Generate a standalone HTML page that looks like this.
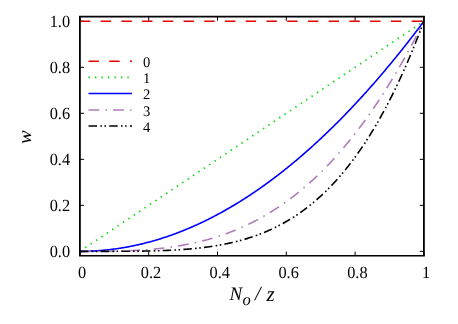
<!DOCTYPE html>
<html><head><meta charset="utf-8"><title>plot</title>
<style>html,body{margin:0;padding:0;background:#fff;}body{width:458px;height:324px;overflow:hidden;font-family:"Liberation Serif",serif;}svg{display:block;will-change:transform;}</style>
</head><body>
<svg width="458" height="324" viewBox="0 0 458 324" font-family="'Liberation Serif', serif" fill="#000" text-rendering="geometricPrecision">
<rect x="0" y="0" width="458" height="324" fill="#fff"/>
<path d="M79.90,255.75 v-4.15 M79.90,16.62 v4.15 M79.9,251.35 h4.15 M423.9,251.35 h-4.15" stroke="#000" stroke-width="1" fill="none"/>
<path d="M148.70,255.75 v-4.15 M148.70,16.62 v4.15 M79.9,205.34 h4.15 M423.9,205.34 h-4.15" stroke="#000" stroke-width="1" fill="none"/>
<path d="M217.50,255.75 v-4.15 M217.50,16.62 v4.15 M79.9,159.33 h4.15 M423.9,159.33 h-4.15" stroke="#000" stroke-width="1" fill="none"/>
<path d="M286.30,255.75 v-4.15 M286.30,16.62 v4.15 M79.9,113.32 h4.15 M423.9,113.32 h-4.15" stroke="#000" stroke-width="1" fill="none"/>
<path d="M355.10,255.75 v-4.15 M355.10,16.62 v4.15 M79.9,67.31 h4.15 M423.9,67.31 h-4.15" stroke="#000" stroke-width="1" fill="none"/>
<path d="M423.90,255.75 v-4.15 M423.90,16.62 v4.15 M79.9,21.30 h4.15 M423.9,21.30 h-4.15" stroke="#000" stroke-width="1" fill="none"/>
<path d="M79.90,21.30 L423.90,21.30" fill="none" stroke="#e40000" stroke-width="1.6" stroke-dasharray="10.4 10.33"/>
<path d="M79.90,251.35 L423.90,21.30" fill="none" stroke="#00d800" stroke-width="1.7" stroke-dasharray="1.4 5.08"/>
<path d="M79.90,251.35 L80.76,251.35 L81.62,251.34 L82.48,251.34 L83.34,251.33 L84.20,251.31 L85.06,251.30 L85.92,251.28 L86.78,251.26 L87.64,251.23 L88.50,251.21 L89.36,251.18 L90.22,251.14 L91.08,251.11 L91.94,251.07 L92.80,251.03 L93.66,250.98 L94.52,250.93 L95.38,250.88 L96.24,250.83 L97.10,250.77 L97.96,250.72 L98.82,250.65 L99.68,250.59 L100.54,250.52 L101.40,250.45 L102.26,250.38 L103.12,250.30 L103.98,250.22 L104.84,250.14 L105.70,250.06 L106.56,249.97 L107.42,249.88 L108.28,249.78 L109.14,249.69 L110.00,249.59 L110.86,249.49 L111.72,249.38 L112.58,249.27 L113.44,249.16 L114.30,249.05 L115.16,248.93 L116.02,248.81 L116.88,248.69 L117.74,248.57 L118.60,248.44 L119.46,248.31 L120.32,248.17 L121.18,248.04 L122.04,247.90 L122.90,247.76 L123.76,247.61 L124.62,247.46 L125.48,247.31 L126.34,247.16 L127.20,247.00 L128.06,246.84 L128.92,246.68 L129.78,246.51 L130.64,246.34 L131.50,246.17 L132.36,246.00 L133.22,245.82 L134.08,245.64 L134.94,245.46 L135.80,245.28 L136.66,245.09 L137.52,244.90 L138.38,244.70 L139.24,244.50 L140.10,244.30 L140.96,244.10 L141.82,243.90 L142.68,243.69 L143.54,243.48 L144.40,243.26 L145.26,243.05 L146.12,242.83 L146.98,242.60 L147.84,242.38 L148.70,242.15 L149.56,241.92 L150.42,241.68 L151.28,241.44 L152.14,241.20 L153.00,240.96 L153.86,240.72 L154.72,240.47 L155.58,240.22 L156.44,239.96 L157.30,239.70 L158.16,239.44 L159.02,239.18 L159.88,238.91 L160.74,238.65 L161.60,238.37 L162.46,238.10 L163.32,237.82 L164.18,237.54 L165.04,237.26 L165.90,236.97 L166.76,236.68 L167.62,236.39 L168.48,236.10 L169.34,235.80 L170.20,235.50 L171.06,235.19 L171.92,234.89 L172.78,234.58 L173.64,234.27 L174.50,233.95 L175.36,233.63 L176.22,233.31 L177.08,232.99 L177.94,232.66 L178.80,232.33 L179.66,232.00 L180.52,231.67 L181.38,231.33 L182.24,230.99 L183.10,230.65 L183.96,230.30 L184.82,229.95 L185.68,229.60 L186.54,229.24 L187.40,228.88 L188.26,228.52 L189.12,228.16 L189.98,227.79 L190.84,227.42 L191.70,227.05 L192.56,226.68 L193.42,226.30 L194.28,225.92 L195.14,225.53 L196.00,225.15 L196.86,224.76 L197.72,224.36 L198.58,223.97 L199.44,223.57 L200.30,223.17 L201.16,222.76 L202.02,222.36 L202.88,221.95 L203.74,221.54 L204.60,221.12 L205.46,220.70 L206.32,220.28 L207.18,219.86 L208.04,219.43 L208.90,219.00 L209.76,218.57 L210.62,218.13 L211.48,217.69 L212.34,217.25 L213.20,216.81 L214.06,216.36 L214.92,215.91 L215.78,215.46 L216.64,215.00 L217.50,214.54 L218.36,214.08 L219.22,213.62 L220.08,213.15 L220.94,212.68 L221.80,212.21 L222.66,211.73 L223.52,211.25 L224.38,210.77 L225.24,210.28 L226.10,209.80 L226.96,209.31 L227.82,208.81 L228.68,208.32 L229.54,207.82 L230.40,207.32 L231.26,206.81 L232.12,206.30 L232.98,205.79 L233.84,205.28 L234.70,204.76 L235.56,204.25 L236.42,203.72 L237.28,203.20 L238.14,202.67 L239.00,202.14 L239.86,201.61 L240.72,201.07 L241.58,200.53 L242.44,199.99 L243.30,199.44 L244.16,198.90 L245.02,198.35 L245.88,197.79 L246.74,197.24 L247.60,196.68 L248.46,196.11 L249.32,195.55 L250.18,194.98 L251.04,194.41 L251.90,193.84 L252.76,193.26 L253.62,192.68 L254.48,192.10 L255.34,191.51 L256.20,190.93 L257.06,190.33 L257.92,189.74 L258.78,189.14 L259.64,188.54 L260.50,187.94 L261.36,187.34 L262.22,186.73 L263.08,186.12 L263.94,185.50 L264.80,184.89 L265.66,184.27 L266.52,183.64 L267.38,183.02 L268.24,182.39 L269.10,181.76 L269.96,181.13 L270.82,180.49 L271.68,179.85 L272.54,179.21 L273.40,178.56 L274.26,177.91 L275.12,177.26 L275.98,176.61 L276.84,175.95 L277.70,175.29 L278.56,174.63 L279.42,173.96 L280.28,173.29 L281.14,172.62 L282.00,171.95 L282.86,171.27 L283.72,170.59 L284.58,169.91 L285.44,169.22 L286.30,168.53 L287.16,167.84 L288.02,167.15 L288.88,166.45 L289.74,165.75 L290.60,165.05 L291.46,164.34 L292.32,163.63 L293.18,162.92 L294.04,162.20 L294.90,161.49 L295.76,160.77 L296.62,160.04 L297.48,159.32 L298.34,158.59 L299.20,157.86 L300.06,157.12 L300.92,156.38 L301.78,155.64 L302.64,154.90 L303.50,154.15 L304.36,153.40 L305.22,152.65 L306.08,151.90 L306.94,151.14 L307.80,150.38 L308.66,149.62 L309.52,148.85 L310.38,148.08 L311.24,147.31 L312.10,146.53 L312.96,145.76 L313.82,144.97 L314.68,144.19 L315.54,143.40 L316.40,142.62 L317.26,141.82 L318.12,141.03 L318.98,140.23 L319.84,139.43 L320.70,138.63 L321.56,137.82 L322.42,137.01 L323.28,136.20 L324.14,135.38 L325.00,134.56 L325.86,133.74 L326.72,132.92 L327.58,132.09 L328.44,131.26 L329.30,130.43 L330.16,129.59 L331.02,128.76 L331.88,127.92 L332.74,127.07 L333.60,126.22 L334.46,125.37 L335.32,124.52 L336.18,123.67 L337.04,122.81 L337.90,121.95 L338.76,121.08 L339.62,120.22 L340.48,119.35 L341.34,118.47 L342.20,117.60 L343.06,116.72 L343.92,115.84 L344.78,114.95 L345.64,114.07 L346.50,113.18 L347.36,112.28 L348.22,111.39 L349.08,110.49 L349.94,109.59 L350.80,108.68 L351.66,107.78 L352.52,106.87 L353.38,105.95 L354.24,105.04 L355.10,104.12 L355.96,103.20 L356.82,102.27 L357.68,101.34 L358.54,100.41 L359.40,99.48 L360.26,98.55 L361.12,97.61 L361.98,96.66 L362.84,95.72 L363.70,94.77 L364.56,93.82 L365.42,92.87 L366.28,91.91 L367.14,90.95 L368.00,89.99 L368.86,89.03 L369.72,88.06 L370.58,87.09 L371.44,86.12 L372.30,85.14 L373.16,84.16 L374.02,83.18 L374.88,82.19 L375.74,81.21 L376.60,80.21 L377.46,79.22 L378.32,78.22 L379.18,77.23 L380.04,76.22 L380.90,75.22 L381.76,74.21 L382.62,73.20 L383.48,72.19 L384.34,71.17 L385.20,70.15 L386.06,69.13 L386.92,68.10 L387.78,67.07 L388.64,66.04 L389.50,65.01 L390.36,63.97 L391.22,62.93 L392.08,61.89 L392.94,60.85 L393.80,59.80 L394.66,58.75 L395.52,57.69 L396.38,56.64 L397.24,55.58 L398.10,54.51 L398.96,53.45 L399.82,52.38 L400.68,51.31 L401.54,50.23 L402.40,49.16 L403.26,48.08 L404.12,47.00 L404.98,45.91 L405.84,44.82 L406.70,43.73 L407.56,42.64 L408.42,41.54 L409.28,40.44 L410.14,39.34 L411.00,38.23 L411.86,37.12 L412.72,36.01 L413.58,34.90 L414.44,33.78 L415.30,32.66 L416.16,31.54 L417.02,30.41 L417.88,29.28 L418.74,28.15 L419.60,27.02 L420.46,25.88 L421.32,24.74 L422.18,23.59 L423.04,22.45 L423.90,21.30" fill="none" stroke="#0000ff" stroke-width="1.6"/>
<path d="M79.90,251.35 L80.76,251.35 L81.62,251.35 L82.48,251.35 L83.34,251.35 L84.20,251.35 L85.06,251.35 L85.92,251.35 L86.78,251.35 L87.64,251.35 L88.50,251.35 L89.36,251.35 L90.22,251.34 L91.08,251.34 L91.94,251.34 L92.80,251.34 L93.66,251.34 L94.52,251.33 L95.38,251.33 L96.24,251.33 L97.10,251.32 L97.96,251.32 L98.82,251.31 L99.68,251.31 L100.54,251.30 L101.40,251.29 L102.26,251.29 L103.12,251.28 L103.98,251.27 L104.84,251.26 L105.70,251.25 L106.56,251.24 L107.42,251.23 L108.28,251.22 L109.14,251.21 L110.00,251.20 L110.86,251.18 L111.72,251.17 L112.58,251.15 L113.44,251.14 L114.30,251.12 L115.16,251.10 L116.02,251.08 L116.88,251.06 L117.74,251.04 L118.60,251.02 L119.46,251.00 L120.32,250.98 L121.18,250.95 L122.04,250.93 L122.90,250.90 L123.76,250.87 L124.62,250.84 L125.48,250.81 L126.34,250.78 L127.20,250.75 L128.06,250.72 L128.92,250.68 L129.78,250.65 L130.64,250.61 L131.50,250.57 L132.36,250.53 L133.22,250.49 L134.08,250.45 L134.94,250.41 L135.80,250.36 L136.66,250.32 L137.52,250.27 L138.38,250.22 L139.24,250.17 L140.10,250.12 L140.96,250.06 L141.82,250.01 L142.68,249.95 L143.54,249.89 L144.40,249.83 L145.26,249.77 L146.12,249.71 L146.98,249.64 L147.84,249.58 L148.70,249.51 L149.56,249.44 L150.42,249.37 L151.28,249.29 L152.14,249.22 L153.00,249.14 L153.86,249.06 L154.72,248.98 L155.58,248.90 L156.44,248.82 L157.30,248.73 L158.16,248.64 L159.02,248.55 L159.88,248.46 L160.74,248.36 L161.60,248.27 L162.46,248.17 L163.32,248.07 L164.18,247.97 L165.04,247.86 L165.90,247.76 L166.76,247.65 L167.62,247.54 L168.48,247.42 L169.34,247.31 L170.20,247.19 L171.06,247.07 L171.92,246.95 L172.78,246.82 L173.64,246.69 L174.50,246.57 L175.36,246.43 L176.22,246.30 L177.08,246.16 L177.94,246.02 L178.80,245.88 L179.66,245.74 L180.52,245.59 L181.38,245.44 L182.24,245.29 L183.10,245.14 L183.96,244.98 L184.82,244.82 L185.68,244.66 L186.54,244.50 L187.40,244.33 L188.26,244.16 L189.12,243.99 L189.98,243.81 L190.84,243.63 L191.70,243.45 L192.56,243.27 L193.42,243.08 L194.28,242.89 L195.14,242.70 L196.00,242.51 L196.86,242.31 L197.72,242.11 L198.58,241.90 L199.44,241.70 L200.30,241.49 L201.16,241.27 L202.02,241.06 L202.88,240.84 L203.74,240.62 L204.60,240.39 L205.46,240.16 L206.32,239.93 L207.18,239.70 L208.04,239.46 L208.90,239.22 L209.76,238.97 L210.62,238.73 L211.48,238.48 L212.34,238.22 L213.20,237.96 L214.06,237.70 L214.92,237.44 L215.78,237.17 L216.64,236.90 L217.50,236.63 L218.36,236.35 L219.22,236.07 L220.08,235.78 L220.94,235.49 L221.80,235.20 L222.66,234.91 L223.52,234.61 L224.38,234.31 L225.24,234.00 L226.10,233.69 L226.96,233.38 L227.82,233.06 L228.68,232.74 L229.54,232.41 L230.40,232.09 L231.26,231.75 L232.12,231.42 L232.98,231.08 L233.84,230.73 L234.70,230.39 L235.56,230.04 L236.42,229.68 L237.28,229.32 L238.14,228.96 L239.00,228.59 L239.86,228.22 L240.72,227.84 L241.58,227.47 L242.44,227.08 L243.30,226.70 L244.16,226.30 L245.02,225.91 L245.88,225.51 L246.74,225.10 L247.60,224.70 L248.46,224.28 L249.32,223.87 L250.18,223.45 L251.04,223.02 L251.90,222.59 L252.76,222.16 L253.62,221.72 L254.48,221.28 L255.34,220.83 L256.20,220.38 L257.06,219.93 L257.92,219.47 L258.78,219.00 L259.64,218.53 L260.50,218.06 L261.36,217.58 L262.22,217.10 L263.08,216.61 L263.94,216.12 L264.80,215.63 L265.66,215.13 L266.52,214.62 L267.38,214.11 L268.24,213.59 L269.10,213.08 L269.96,212.55 L270.82,212.02 L271.68,211.49 L272.54,210.95 L273.40,210.41 L274.26,209.86 L275.12,209.30 L275.98,208.75 L276.84,208.18 L277.70,207.62 L278.56,207.04 L279.42,206.46 L280.28,205.88 L281.14,205.29 L282.00,204.70 L282.86,204.10 L283.72,203.50 L284.58,202.89 L285.44,202.28 L286.30,201.66 L287.16,201.04 L288.02,200.41 L288.88,199.77 L289.74,199.13 L290.60,198.49 L291.46,197.84 L292.32,197.18 L293.18,196.52 L294.04,195.86 L294.90,195.19 L295.76,194.51 L296.62,193.83 L297.48,193.14 L298.34,192.45 L299.20,191.75 L300.06,191.04 L300.92,190.33 L301.78,189.62 L302.64,188.90 L303.50,188.17 L304.36,187.44 L305.22,186.70 L306.08,185.96 L306.94,185.21 L307.80,184.46 L308.66,183.70 L309.52,182.93 L310.38,182.16 L311.24,181.38 L312.10,180.60 L312.96,179.81 L313.82,179.01 L314.68,178.21 L315.54,177.41 L316.40,176.59 L317.26,175.78 L318.12,174.95 L318.98,174.12 L319.84,173.29 L320.70,172.44 L321.56,171.59 L322.42,170.74 L323.28,169.88 L324.14,169.01 L325.00,168.14 L325.86,167.26 L326.72,166.38 L327.58,165.48 L328.44,164.59 L329.30,163.68 L330.16,162.77 L331.02,161.86 L331.88,160.93 L332.74,160.01 L333.60,159.07 L334.46,158.13 L335.32,157.18 L336.18,156.23 L337.04,155.26 L337.90,154.30 L338.76,153.32 L339.62,152.34 L340.48,151.36 L341.34,150.36 L342.20,149.36 L343.06,148.36 L343.92,147.34 L344.78,146.32 L345.64,145.30 L346.50,144.27 L347.36,143.23 L348.22,142.18 L349.08,141.13 L349.94,140.07 L350.80,139.00 L351.66,137.93 L352.52,136.85 L353.38,135.76 L354.24,134.67 L355.10,133.56 L355.96,132.46 L356.82,131.34 L357.68,130.22 L358.54,129.09 L359.40,127.96 L360.26,126.81 L361.12,125.66 L361.98,124.51 L362.84,123.34 L363.70,122.17 L364.56,121.00 L365.42,119.81 L366.28,118.62 L367.14,117.42 L368.00,116.21 L368.86,115.00 L369.72,113.78 L370.58,112.55 L371.44,111.31 L372.30,110.07 L373.16,108.82 L374.02,107.56 L374.88,106.30 L375.74,105.03 L376.60,103.75 L377.46,102.46 L378.32,101.16 L379.18,99.86 L380.04,98.55 L380.90,97.23 L381.76,95.91 L382.62,94.58 L383.48,93.24 L384.34,91.89 L385.20,90.53 L386.06,89.17 L386.92,87.80 L387.78,86.42 L388.64,85.04 L389.50,83.64 L390.36,82.24 L391.22,80.83 L392.08,79.42 L392.94,77.99 L393.80,76.56 L394.66,75.12 L395.52,73.67 L396.38,72.21 L397.24,70.75 L398.10,69.28 L398.96,67.80 L399.82,66.31 L400.68,64.81 L401.54,63.31 L402.40,61.79 L403.26,60.27 L404.12,58.75 L404.98,57.21 L405.84,55.66 L406.70,54.11 L407.56,52.55 L408.42,50.98 L409.28,49.40 L410.14,47.82 L411.00,46.22 L411.86,44.62 L412.72,43.01 L413.58,41.39 L414.44,39.76 L415.30,38.13 L416.16,36.48 L417.02,34.83 L417.88,33.17 L418.74,31.50 L419.60,29.82 L420.46,28.13 L421.32,26.44 L422.18,24.73 L423.04,23.02 L423.90,21.30" fill="none" stroke="#b07cba" stroke-width="1.6" stroke-dasharray="10.8 6.2 1.5 6.1"/>
<path d="M79.90,251.35 L80.76,251.35 L81.62,251.35 L82.48,251.35 L83.34,251.35 L84.20,251.35 L85.06,251.35 L85.92,251.35 L86.78,251.35 L87.64,251.35 L88.50,251.35 L89.36,251.35 L90.22,251.35 L91.08,251.35 L91.94,251.35 L92.80,251.35 L93.66,251.35 L94.52,251.35 L95.38,251.35 L96.24,251.35 L97.10,251.35 L97.96,251.35 L98.82,251.35 L99.68,251.35 L100.54,251.35 L101.40,251.35 L102.26,251.35 L103.12,251.35 L103.98,251.34 L104.84,251.34 L105.70,251.34 L106.56,251.34 L107.42,251.34 L108.28,251.34 L109.14,251.34 L110.00,251.34 L110.86,251.33 L111.72,251.33 L112.58,251.33 L113.44,251.33 L114.30,251.33 L115.16,251.32 L116.02,251.32 L116.88,251.32 L117.74,251.32 L118.60,251.31 L119.46,251.31 L120.32,251.31 L121.18,251.30 L122.04,251.30 L122.90,251.29 L123.76,251.29 L124.62,251.28 L125.48,251.28 L126.34,251.27 L127.20,251.27 L128.06,251.26 L128.92,251.26 L129.78,251.25 L130.64,251.24 L131.50,251.23 L132.36,251.23 L133.22,251.22 L134.08,251.21 L134.94,251.20 L135.80,251.19 L136.66,251.18 L137.52,251.17 L138.38,251.16 L139.24,251.15 L140.10,251.13 L140.96,251.12 L141.82,251.11 L142.68,251.09 L143.54,251.08 L144.40,251.07 L145.26,251.05 L146.12,251.03 L146.98,251.02 L147.84,251.00 L148.70,250.98 L149.56,250.96 L150.42,250.94 L151.28,250.92 L152.14,250.90 L153.00,250.88 L153.86,250.86 L154.72,250.84 L155.58,250.81 L156.44,250.79 L157.30,250.76 L158.16,250.73 L159.02,250.71 L159.88,250.68 L160.74,250.65 L161.60,250.62 L162.46,250.59 L163.32,250.55 L164.18,250.52 L165.04,250.49 L165.90,250.45 L166.76,250.41 L167.62,250.38 L168.48,250.34 L169.34,250.30 L170.20,250.26 L171.06,250.22 L171.92,250.17 L172.78,250.13 L173.64,250.08 L174.50,250.03 L175.36,249.99 L176.22,249.94 L177.08,249.88 L177.94,249.83 L178.80,249.78 L179.66,249.72 L180.52,249.67 L181.38,249.61 L182.24,249.55 L183.10,249.49 L183.96,249.42 L184.82,249.36 L185.68,249.29 L186.54,249.23 L187.40,249.16 L188.26,249.09 L189.12,249.01 L189.98,248.94 L190.84,248.86 L191.70,248.78 L192.56,248.70 L193.42,248.62 L194.28,248.54 L195.14,248.45 L196.00,248.37 L196.86,248.28 L197.72,248.18 L198.58,248.09 L199.44,248.00 L200.30,247.90 L201.16,247.80 L202.02,247.70 L202.88,247.59 L203.74,247.49 L204.60,247.38 L205.46,247.27 L206.32,247.15 L207.18,247.04 L208.04,246.92 L208.90,246.80 L209.76,246.68 L210.62,246.55 L211.48,246.43 L212.34,246.30 L213.20,246.16 L214.06,246.03 L214.92,245.89 L215.78,245.75 L216.64,245.61 L217.50,245.46 L218.36,245.31 L219.22,245.16 L220.08,245.01 L220.94,244.85 L221.80,244.69 L222.66,244.53 L223.52,244.36 L224.38,244.19 L225.24,244.02 L226.10,243.84 L226.96,243.67 L227.82,243.49 L228.68,243.30 L229.54,243.11 L230.40,242.92 L231.26,242.73 L232.12,242.53 L232.98,242.33 L233.84,242.12 L234.70,241.92 L235.56,241.71 L236.42,241.49 L237.28,241.27 L238.14,241.05 L239.00,240.82 L239.86,240.59 L240.72,240.36 L241.58,240.12 L242.44,239.88 L243.30,239.64 L244.16,239.39 L245.02,239.14 L245.88,238.88 L246.74,238.62 L247.60,238.36 L248.46,238.09 L249.32,237.82 L250.18,237.54 L251.04,237.26 L251.90,236.97 L252.76,236.68 L253.62,236.39 L254.48,236.09 L255.34,235.79 L256.20,235.48 L257.06,235.17 L257.92,234.85 L258.78,234.53 L259.64,234.20 L260.50,233.87 L261.36,233.54 L262.22,233.20 L263.08,232.85 L263.94,232.50 L264.80,232.15 L265.66,231.79 L266.52,231.42 L267.38,231.05 L268.24,230.68 L269.10,230.30 L269.96,229.91 L270.82,229.52 L271.68,229.13 L272.54,228.73 L273.40,228.32 L274.26,227.91 L275.12,227.49 L275.98,227.07 L276.84,226.64 L277.70,226.20 L278.56,225.76 L279.42,225.32 L280.28,224.86 L281.14,224.41 L282.00,223.94 L282.86,223.47 L283.72,223.00 L284.58,222.52 L285.44,222.03 L286.30,221.54 L287.16,221.04 L288.02,220.53 L288.88,220.02 L289.74,219.50 L290.60,218.97 L291.46,218.44 L292.32,217.90 L293.18,217.36 L294.04,216.81 L294.90,216.25 L295.76,215.68 L296.62,215.11 L297.48,214.53 L298.34,213.95 L299.20,213.35 L300.06,212.75 L300.92,212.15 L301.78,211.53 L302.64,210.91 L303.50,210.28 L304.36,209.65 L305.22,209.01 L306.08,208.36 L306.94,207.70 L307.80,207.03 L308.66,206.36 L309.52,205.68 L310.38,204.99 L311.24,204.30 L312.10,203.59 L312.96,202.88 L313.82,202.16 L314.68,201.43 L315.54,200.70 L316.40,199.96 L317.26,199.20 L318.12,198.44 L318.98,197.68 L319.84,196.90 L320.70,196.11 L321.56,195.32 L322.42,194.52 L323.28,193.71 L324.14,192.89 L325.00,192.06 L325.86,191.23 L326.72,190.38 L327.58,189.53 L328.44,188.66 L329.30,187.79 L330.16,186.91 L331.02,186.02 L331.88,185.12 L332.74,184.21 L333.60,183.29 L334.46,182.37 L335.32,181.43 L336.18,180.48 L337.04,179.53 L337.90,178.56 L338.76,177.59 L339.62,176.60 L340.48,175.61 L341.34,174.60 L342.20,173.59 L343.06,172.56 L343.92,171.53 L344.78,170.48 L345.64,169.43 L346.50,168.36 L347.36,167.28 L348.22,166.20 L349.08,165.10 L349.94,163.99 L350.80,162.87 L351.66,161.75 L352.52,160.61 L353.38,159.46 L354.24,158.29 L355.10,157.12 L355.96,155.94 L356.82,154.74 L357.68,153.54 L358.54,152.32 L359.40,151.09 L360.26,149.85 L361.12,148.60 L361.98,147.34 L362.84,146.07 L363.70,144.78 L364.56,143.48 L365.42,142.17 L366.28,140.85 L367.14,139.52 L368.00,138.17 L368.86,136.81 L369.72,135.45 L370.58,134.06 L371.44,132.67 L372.30,131.26 L373.16,129.84 L374.02,128.41 L374.88,126.97 L375.74,125.51 L376.60,124.04 L377.46,122.56 L378.32,121.06 L379.18,119.55 L380.04,118.03 L380.90,116.50 L381.76,114.95 L382.62,113.39 L383.48,111.82 L384.34,110.23 L385.20,108.63 L386.06,107.01 L386.92,105.38 L387.78,103.74 L388.64,102.08 L389.50,100.41 L390.36,98.73 L391.22,97.03 L392.08,95.32 L392.94,93.59 L393.80,91.85 L394.66,90.10 L395.52,88.33 L396.38,86.54 L397.24,84.75 L398.10,82.93 L398.96,81.10 L399.82,79.26 L400.68,77.40 L401.54,75.53 L402.40,73.64 L403.26,71.74 L404.12,69.82 L404.98,67.89 L405.84,65.94 L406.70,63.97 L407.56,61.99 L408.42,60.00 L409.28,57.99 L410.14,55.96 L411.00,53.91 L411.86,51.86 L412.72,49.78 L413.58,47.69 L414.44,45.58 L415.30,43.46 L416.16,41.32 L417.02,39.16 L417.88,36.99 L418.74,34.80 L419.60,32.59 L420.46,30.36 L421.32,28.12 L422.18,25.87 L423.04,23.59 L423.90,21.30" fill="none" stroke="#000" stroke-width="1.6" stroke-dasharray="8.5 3.3 1.6 2.5 1.6 3.2"/>
<path d="M88.5,61.3 H132" fill="none" stroke="#e40000" stroke-width="1.6" stroke-dasharray="10.4 10.33"/>
<path d="M88.5,77.45 H132" fill="none" stroke="#00d800" stroke-width="1.7" stroke-dasharray="1.4 5.08"/>
<path d="M88.5,93.55 H132" fill="none" stroke="#0000ff" stroke-width="1.6"/>
<path d="M88.5,109.95 H132" fill="none" stroke="#b07cba" stroke-width="1.6" stroke-dasharray="10.8 6.2 1.5 6.1"/>
<path d="M88.5,126.05 H132" fill="none" stroke="#000" stroke-width="1.6" stroke-dasharray="8.5 3.3 1.6 2.5 1.6 3.2"/>
<text x="142.9" y="66.9" font-size="14.6">0</text>
<text x="142.9" y="83.0" font-size="14.6">1</text>
<text x="142.9" y="99.1" font-size="14.6">2</text>
<text x="142.9" y="115.5" font-size="14.6">3</text>
<text x="142.9" y="131.7" font-size="14.6">4</text>
<path d="M79.9,16.62 V255.75 M423.9,16.62 V255.75" fill="none" stroke="#000" stroke-width="1.8"/>
<path d="M79.0,16.62 H424.79999999999995 M79.0,255.75 H424.79999999999995" fill="none" stroke="#000" stroke-width="1.55"/>
<text transform="translate(82.20,278.2) scale(0.96,1)" font-size="17" text-anchor="middle">0</text>
<text transform="translate(70.1,257.45) scale(0.96,1)" font-size="17" text-anchor="end">0.0</text>
<text transform="translate(151.00,278.2) scale(0.96,1)" font-size="17" text-anchor="middle">0.2</text>
<text transform="translate(70.1,211.44) scale(0.96,1)" font-size="17" text-anchor="end">0.2</text>
<text transform="translate(219.80,278.2) scale(0.96,1)" font-size="17" text-anchor="middle">0.4</text>
<text transform="translate(70.1,165.43) scale(0.96,1)" font-size="17" text-anchor="end">0.4</text>
<text transform="translate(288.60,278.2) scale(0.96,1)" font-size="17" text-anchor="middle">0.6</text>
<text transform="translate(70.1,119.42) scale(0.96,1)" font-size="17" text-anchor="end">0.6</text>
<text transform="translate(357.40,278.2) scale(0.96,1)" font-size="17" text-anchor="middle">0.8</text>
<text transform="translate(70.1,73.41) scale(0.96,1)" font-size="17" text-anchor="end">0.8</text>
<text transform="translate(426.20,278.2) scale(0.96,1)" font-size="17" text-anchor="middle">1</text>
<text transform="translate(70.1,27.40) scale(0.96,1)" font-size="17" text-anchor="end">1.0</text>
<text x="229.5" y="300" font-size="19" font-style="italic">N</text>
<text x="242.6" y="304.5" font-size="16.5" font-style="italic">o</text>
<text x="255.1" y="300.3" font-size="20" font-style="italic">/</text>
<text x="266.6" y="300.6" font-size="21" font-style="italic">z</text>
<text transform="translate(31.3,144.0) rotate(-90) scale(1.08,1)" font-size="19" font-style="italic">w</text>
</svg>
</body></html>
